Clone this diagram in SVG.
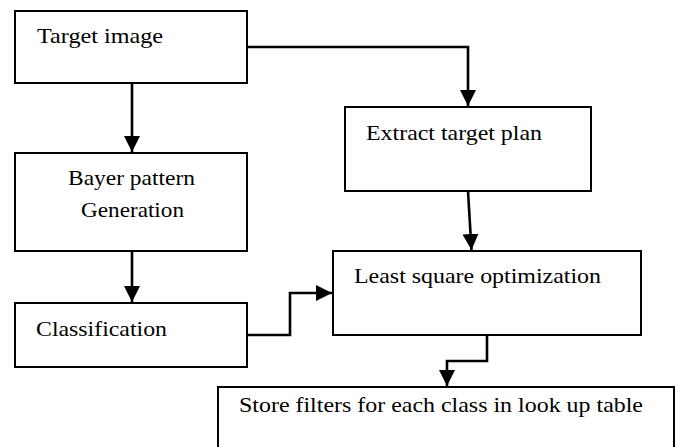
<svg xmlns="http://www.w3.org/2000/svg" width="678" height="447" viewBox="0 0 678 447">
<style>
.box{fill:#fff;stroke:#000;stroke-width:2}
.lbl{font-family:"Liberation Serif","Times New Roman",serif;font-size:22px;fill:#000}
.con{fill:none;stroke:#000;stroke-width:2.6}
</style>
<defs>
<marker id="ah" markerWidth="16" markerHeight="16" viewBox="0 0 16 16" refX="16" refY="8" orient="auto" markerUnits="userSpaceOnUse">
<path d="M0,0 L16,8 L0,16 Z" fill="#000"/>
</marker>
</defs>
<rect width="678" height="447" fill="#fff"/>
<g id="connectors">
<polyline class="con" points="247,47 468,47 468,106" marker-end="url(#ah)"/>
<line class="con" x1="132" y1="83" x2="132" y2="152" marker-end="url(#ah)"/>
<line class="con" x1="132" y1="251" x2="132" y2="302" marker-end="url(#ah)"/>
<line class="con" x1="468" y1="191" x2="471.5" y2="250" marker-end="url(#ah)"/>
<polyline class="con" points="247,335 290,335 290,293 332,293" marker-end="url(#ah)"/>
<polyline class="con" points="487,335 487,361 447,361 447,386" marker-end="url(#ah)"/>
</g>
<g id="target-image">
<rect class="box" x="15" y="11" width="232" height="72"/>
<text class="lbl" x="37" y="43" textLength="126" lengthAdjust="spacingAndGlyphs">Target image</text>
</g>
<g id="bayer">
<rect class="box" x="15" y="153" width="232" height="98"/>
<text class="lbl" x="68" y="185" textLength="127" lengthAdjust="spacingAndGlyphs">Bayer pattern</text>
<text class="lbl" x="81" y="217" textLength="103" lengthAdjust="spacingAndGlyphs">Generation</text>
</g>
<g id="classification">
<rect class="box" x="15" y="303" width="232" height="64"/>
<text class="lbl" x="36" y="336" textLength="131" lengthAdjust="spacingAndGlyphs">Classification</text>
</g>
<g id="extract">
<rect class="box" x="345" y="107" width="246" height="84"/>
<text class="lbl" x="366" y="140" textLength="176" lengthAdjust="spacingAndGlyphs">Extract target plan</text>
</g>
<g id="least-square">
<rect class="box" x="333" y="251" width="308" height="84"/>
<text class="lbl" x="354" y="283" textLength="247" lengthAdjust="spacingAndGlyphs">Least square optimization</text>
</g>
<g id="store">
<rect class="box" x="218" y="387" width="456" height="80"/>
<text class="lbl" x="239" y="412" textLength="404" lengthAdjust="spacingAndGlyphs">Store filters for each class in look up table</text>
</g>
</svg>
